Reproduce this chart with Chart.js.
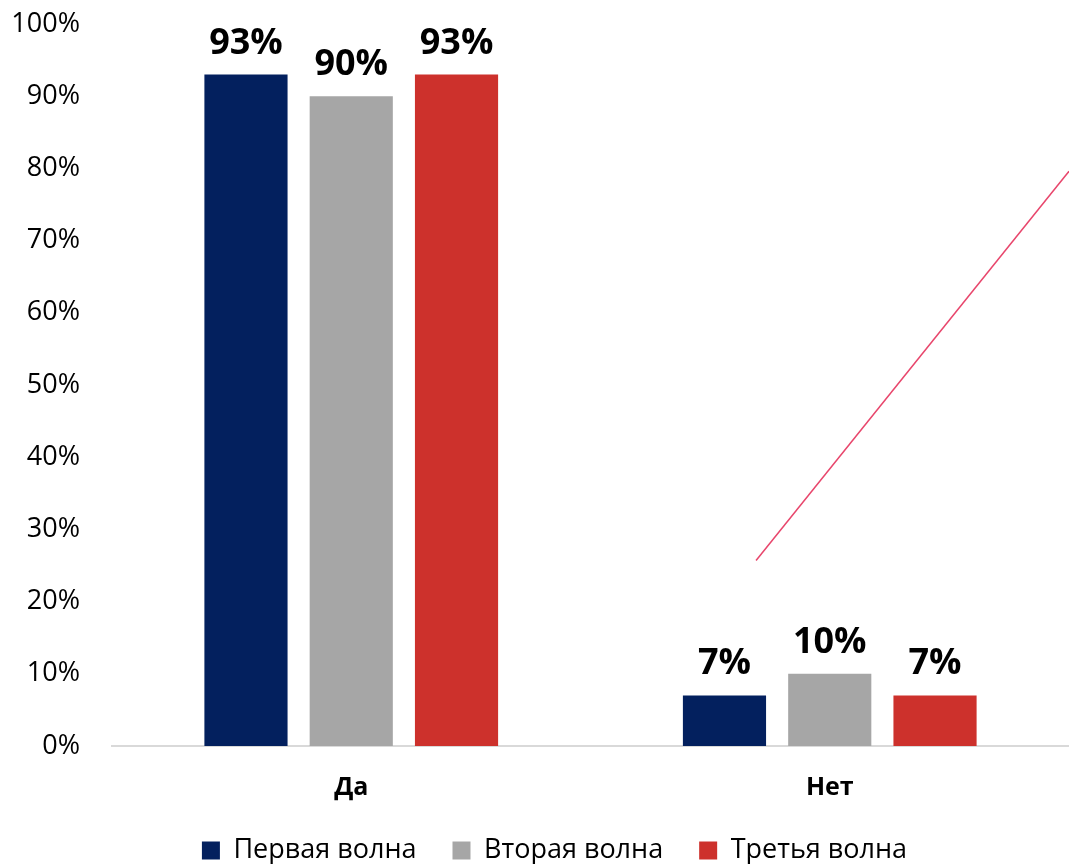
<!DOCTYPE html>
<html>
<head>
<meta charset="utf-8">
<script src="https://cdn.jsdelivr.net/npm/chart.js@4.4.1/dist/chart.umd.js"></script>
<style>
  html, body { margin: 0; padding: 0; background: #fff; }
  #wrap { width: 1069px; height: 864px; }
</style>
</head>
<body>
<div id="wrap"><canvas id="grafico"></canvas></div>
<script>
const categorias = ["Да", "Нет"];
const ondas = ["Первая волна", "Вторая волна", "Третья волна"];
const primeira = [93, 7];
const segunda = [90, 10];
const terceira = [93, 7];
const cores = ["#03205E", "#A6A6A6", "#CD312C"];

// linha solta que aparece no desenho original (em unidades dos eixos)
const linhaSolta = { x: [0.846, 1.5], y: [25.7, 79.6] };

const fonte = "'Open Sans', sans-serif";

const rotulos = {
  id: "rotulos",
  afterDatasetsDraw(chart) {
    const ctx = chart.ctx;
    ctx.save();
    ctx.font = "bold 36px " + fonte;
    ctx.fillStyle = "#000";
    ctx.textAlign = "center";
    ctx.textBaseline = "alphabetic";
    chart.data.datasets.forEach((ds, i) => {
      chart.getDatasetMeta(i).data.forEach((bar, j) => {
        ctx.fillText(ds.data[j] + "%", bar.x, bar.y - 21);
      });
    });
    ctx.restore();
  }
};

const linha = {
  id: "linha",
  afterDraw(chart) {
    const { x, y } = chart.scales;
    const ctx = chart.ctx;
    ctx.save();
    ctx.strokeStyle = "#E8466C";
    ctx.lineWidth = 1.5;
    ctx.beginPath();
    ctx.moveTo(x.getPixelForValue(linhaSolta.x[0]), y.getPixelForValue(linhaSolta.y[0]));
    ctx.lineTo(x.getPixelForValue(linhaSolta.x[1]), y.getPixelForValue(linhaSolta.y[1]));
    ctx.stroke();
    ctx.restore();
  }
};

// a legenda do original fica um pouco à direita do centro
const legendaDeslocada = {
  id: "legendaDeslocada",
  afterLayout(chart) {
    chart.legend.left += 20;
    chart.legend.right += 20;
  }
};

new Chart(document.getElementById("grafico"), {
  type: "bar",
  data: {
    labels: categorias,
    datasets: [
      { label: ondas[0], data: primeira, backgroundColor: cores[0] },
      { label: ondas[1], data: segunda, backgroundColor: cores[1] },
      { label: ondas[2], data: terceira, backgroundColor: cores[2] }
    ]
  },
  options: {
    responsive: true,
    maintainAspectRatio: false,
    animation: false,
    categoryPercentage: 0.66,
    barPercentage: 0.79,
    layout: { padding: { top: 24, right: 0, left: 0, bottom: -10 } },
    scales: {
      x: {
        grid: { display: false, drawTicks: false },
        border: { color: "#D9D9D9", width: 2 },
        ticks: {
          padding: 27,
          color: "#000",
          font: { family: fonte, size: 25, weight: "bold" }
        },
        afterFit(s) { s.height = 55; }
      },
      y: {
        min: 0,
        max: 100,
        grid: { display: false, drawTicks: false },
        border: { display: false },
        ticks: {
          stepSize: 10,
          padding: 32,
          color: "#000",
          font: { family: fonte, size: 27 },
          callback: v => v + "%"
        },
        afterFit(s) {
          s.width = 112;
          s.paddingTop = 0;
          s.paddingBottom = 0;
        }
      }
    },
    plugins: {
      tooltip: { enabled: false },
      legend: {
        position: "bottom",
        labels: {
          boxWidth: 18,
          boxHeight: 18,
          padding: 36,
          color: "#000",
          font: { family: fonte, size: 27 }
        }
      }
    }
  },
  plugins: [rotulos, linha, legendaDeslocada]
});
</script>
</body>
</html>
